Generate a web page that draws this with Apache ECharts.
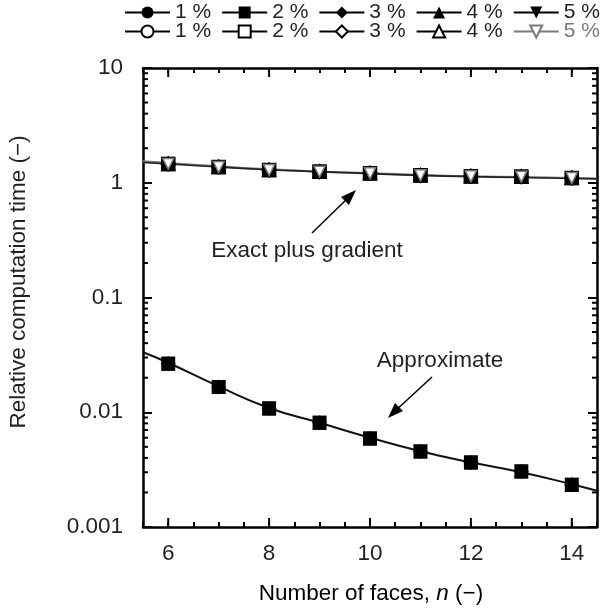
<!DOCTYPE html>
<html><head><meta charset="utf-8">
<script src="https://cdn.jsdelivr.net/npm/echarts@6/dist/echarts.min.js"></script>
<style>html,body{margin:0;padding:0;background:#fff}#c{width:600px;height:610px}</style>
</head><body><div id="c"></div>
<script>
// ---- data ----
const nPoints = [6, 7, 8, 9, 10, 11, 12, 13, 14];
const exactVals = [1.46, 1.37, 1.29, 1.25, 1.21, 1.16, 1.14, 1.13, 1.10];
const approxVals = [0.0265, 0.0166, 0.0108, 0.0081, 0.0059, 0.00455, 0.00365, 0.00305, 0.00233];
const nFit = [5.5, 6, 7, 8, 9, 10, 11, 12, 13, 14, 14.5];
const exactFitBlack = [1.50, 1.46, 1.37, 1.30, 1.25, 1.20, 1.16, 1.13, 1.11, 1.09, 1.08];
const exactFitGray = [1.54, 1.49, 1.39, 1.31, 1.25, 1.21, 1.17, 1.14, 1.12, 1.10, 1.09];
const approxFit = [0.0333, 0.0270, 0.0168, 0.0109, 0.0081, 0.0060, 0.00458, 0.00366, 0.00300, 0.00236, 0.00207];
const percentLabels = ['1 %', '2 %', '3 %', '4 %', '5 %'];
const xTickLabels = [6, 8, 10, 12, 14];
const yTickLabels = ['0.001', '0.01', '0.1', '1', '10'];
const yMinorTickValues = [
  0.002,0.003,0.004,0.005,0.006,0.007,0.008,0.009,
  0.02,0.03,0.04,0.05,0.06,0.07,0.08,0.09,
  0.2,0.3,0.4,0.5,0.6,0.7,0.8,0.9,
  2,3,4,5,6,7,8,9
];

// ---- styling ----
const FONT = 'Liberation Sans, Arial, Helvetica, sans-serif';
const FS = 22.5;
const LFS = 21;
const TXT = '#231f20';
const GRAY = '#7a7a7a';
const invTri = 'path://M0,0L10,0L5,9Z';
const shapes = ['circle', 'rect', 'diamond', 'triangle', invTri];
const sizes = [13, 14, 15, 14, 14];

const zip = (xs, ys) => xs.map((x, i) => [x, ys[i]]);
const upperPts = zip(nPoints, exactVals);
const lowerPts = zip(nPoints, approxVals);

function filledSeries(i) {
  return {
    name: 'F' + i, type: 'line', data: upperPts.concat(lowerPts),
    symbol: shapes[i], symbolSize: sizes[i], showSymbol: true,
    lineStyle: { opacity: 0, width: 0, color: '#000' },
    itemStyle: { color: '#000', borderColor: '#000', borderWidth: 0 },
    emphasis: { disabled: true }, z: 4
  };
}
function openSeries(i) {
  const c = i === 4 ? GRAY : '#000';
  return {
    name: 'O' + i, type: 'line', data: upperPts,
    symbol: shapes[i], symbolSize: i === 4 ? 11 : sizes[i] - 1, showSymbol: true,
    lineStyle: { opacity: 0, width: 0, color: c },
    itemStyle: { color: '#fff', borderColor: c, borderWidth: 1.5 },
    emphasis: { disabled: true }, z: i === 4 ? 5 : 3
  };
}

const series = [];
series.push({ type: 'line', data: zip(nFit, exactFitGray), smooth: true, showSymbol: false, lineStyle: { color: '#777', width: 2 }, z: 2, silent: true });
series.push({ type: 'line', data: zip(nFit, exactFitBlack), smooth: true, showSymbol: false, lineStyle: { color: '#222', width: 1.6 }, z: 2, silent: true });
series.push({ type: 'line', data: zip(nFit, approxFit), smooth: true, showSymbol: false, lineStyle: { color: '#111', width: 2 }, z: 2, silent: true });
for (let i = 0; i < 4; i++) series.push(openSeries(i));
for (let i = 0; i < 5; i++) series.push(filledSeries(i));
series.push(openSeries(4));

// minor / major extra ticks drawn through the axes' scales
series.push({
  type: 'custom', silent: true, clip: false, z: 6,
  data: yMinorTickValues.map(v => [v]),
  renderItem: function (params, api) {
    const v = api.value(0);
    const l = api.coord([5.5, v]);
    const r = api.coord([14.5, v]);
    return { type: 'group', children: [
      { type: 'line', shape: { x1: l[0], y1: l[1], x2: l[0] + 5, y2: l[1] }, style: { stroke: '#000', lineWidth: 2 } },
      { type: 'line', shape: { x1: r[0], y1: r[1], x2: r[0] - 5, y2: r[1] }, style: { stroke: '#000', lineWidth: 2 } }
    ]};
  },
  encode: { y: 0 }
});
series.push({
  type: 'custom', silent: true, clip: false, z: 6,
  data: xTickLabels.map(v => [v]),
  renderItem: function (params, api) {
    const v = api.value(0);
    const b = api.coord([v, 0.001]);
    const t = api.coord([v, 10]);
    return { type: 'group', children: [
      { type: 'line', shape: { x1: b[0], y1: b[1], x2: b[0], y2: b[1] - 9 }, style: { stroke: '#000', lineWidth: 2 } },
      { type: 'line', shape: { x1: t[0], y1: t[1], x2: t[0], y2: t[1] + 9 }, style: { stroke: '#000', lineWidth: 2 } }
    ]};
  },
  encode: { x: 0 }
});

function legendData(prefix) {
  return percentLabels.map((lab, i) => ({
    name: prefix + i,
    lineStyle: { opacity: 1, width: 2, color: (prefix === 'O' && i === 4) ? GRAY : '#000' },
    textStyle: { color: (prefix === 'O' && i === 4) ? GRAY : TXT }
  }));
}
const legendCommon = {
  left: 124, width: 476, itemWidth: 45, itemHeight: 15, itemGap: 10, padding: 0,
  selectedMode: false,
  textStyle: { fontSize: LFS, fontFamily: FONT, color: TXT },
  formatter: name => percentLabels[+name.slice(1)]
};

const axisLineStyle = { lineStyle: { color: '#000', width: 2.5 } };
const option = {
  animation: false,
  backgroundColor: '#fff',
  legend: [
    Object.assign({}, legendCommon, { top: 2, data: legendData('F') }),
    Object.assign({}, legendCommon, { top: 21, data: legendData('O') })
  ],
  grid: { left: 143, right: 3, top: 68, bottom: 83 },
  xAxis: [
    { type: 'value', position: 'bottom', min: 5.5, max: 14.5, interval: 0.5,
      axisLine: axisLineStyle, splitLine: { show: false },
      axisTick: { inside: true, length: 5, lineStyle: { width: 2, color: '#000' } },
      axisLabel: { fontSize: FS, fontFamily: FONT, color: TXT, margin: 15,
        formatter: v => xTickLabels.includes(v) ? String(v) : '' } },
    { type: 'value', position: 'top', min: 5.5, max: 14.5, interval: 0.5,
      axisLine: axisLineStyle, splitLine: { show: false },
      axisTick: { inside: true, length: 5, lineStyle: { width: 2, color: '#000' } },
      axisLabel: { show: false } }
  ],
  yAxis: [
    { type: 'log', logBase: 10, min: 0.001, max: 10, position: 'left',
      axisLine: axisLineStyle, splitLine: { show: false },
      axisTick: { inside: true, length: 9, lineStyle: { width: 2, color: '#000' } },
      axisLabel: { fontSize: FS, fontFamily: FONT, color: TXT, margin: 20,
        formatter: v => yTickLabels[Math.round(Math.log10(v)) + 3] } },
    { type: 'log', logBase: 10, min: 0.001, max: 10, position: 'right',
      axisLine: axisLineStyle, splitLine: { show: false },
      axisTick: { inside: true, length: 9, lineStyle: { width: 2, color: '#000' } },
      axisLabel: { show: false } }
  ],
  graphic: [
    { type: 'text', x: 19, y: 282, rotation: Math.PI / 2, style: { text: 'Relative computation time (\u2212)', font: FS + 'px ' + FONT, fill: TXT, align: 'center', verticalAlign: 'middle' } },
    { type: 'text', x: 371, y: 594, style: { text: '{a|Number of faces, }{b|n}{a| (\u2212)}', rich: { a: { fontSize: FS, fontFamily: FONT, color: TXT }, b: { fontSize: FS, fontFamily: FONT, fontStyle: 'italic', color: TXT } }, align: 'center', verticalAlign: 'middle' } },
    { type: 'text', x: 307, y: 251, style: { text: 'Exact plus gradient', font: FS + 'px ' + FONT, fill: TXT, align: 'center', verticalAlign: 'middle' } },
    { type: 'text', x: 440, y: 361, style: { text: 'Approximate', font: FS + 'px ' + FONT, fill: TXT, align: 'center', verticalAlign: 'middle' } },
    { type: 'line', shape: { x1: 312, y1: 233, x2: 350, y2: 196 }, style: { stroke: '#000', lineWidth: 1.5 } },
    { type: 'polygon', shape: { points: [[356, 190], [341, 197], [349, 205]] }, style: { fill: '#000' } },
    { type: 'line', shape: { x1: 432, y1: 377, x2: 394, y2: 412 }, style: { stroke: '#000', lineWidth: 1.5 } },
    { type: 'polygon', shape: { points: [[388, 418], [395, 403], [403, 411]] }, style: { fill: '#000' } }
  ],
  series: series
};
const chart = echarts.init(document.getElementById('c'), null, { renderer: 'canvas' });
chart.setOption(option);
</script></body></html>
